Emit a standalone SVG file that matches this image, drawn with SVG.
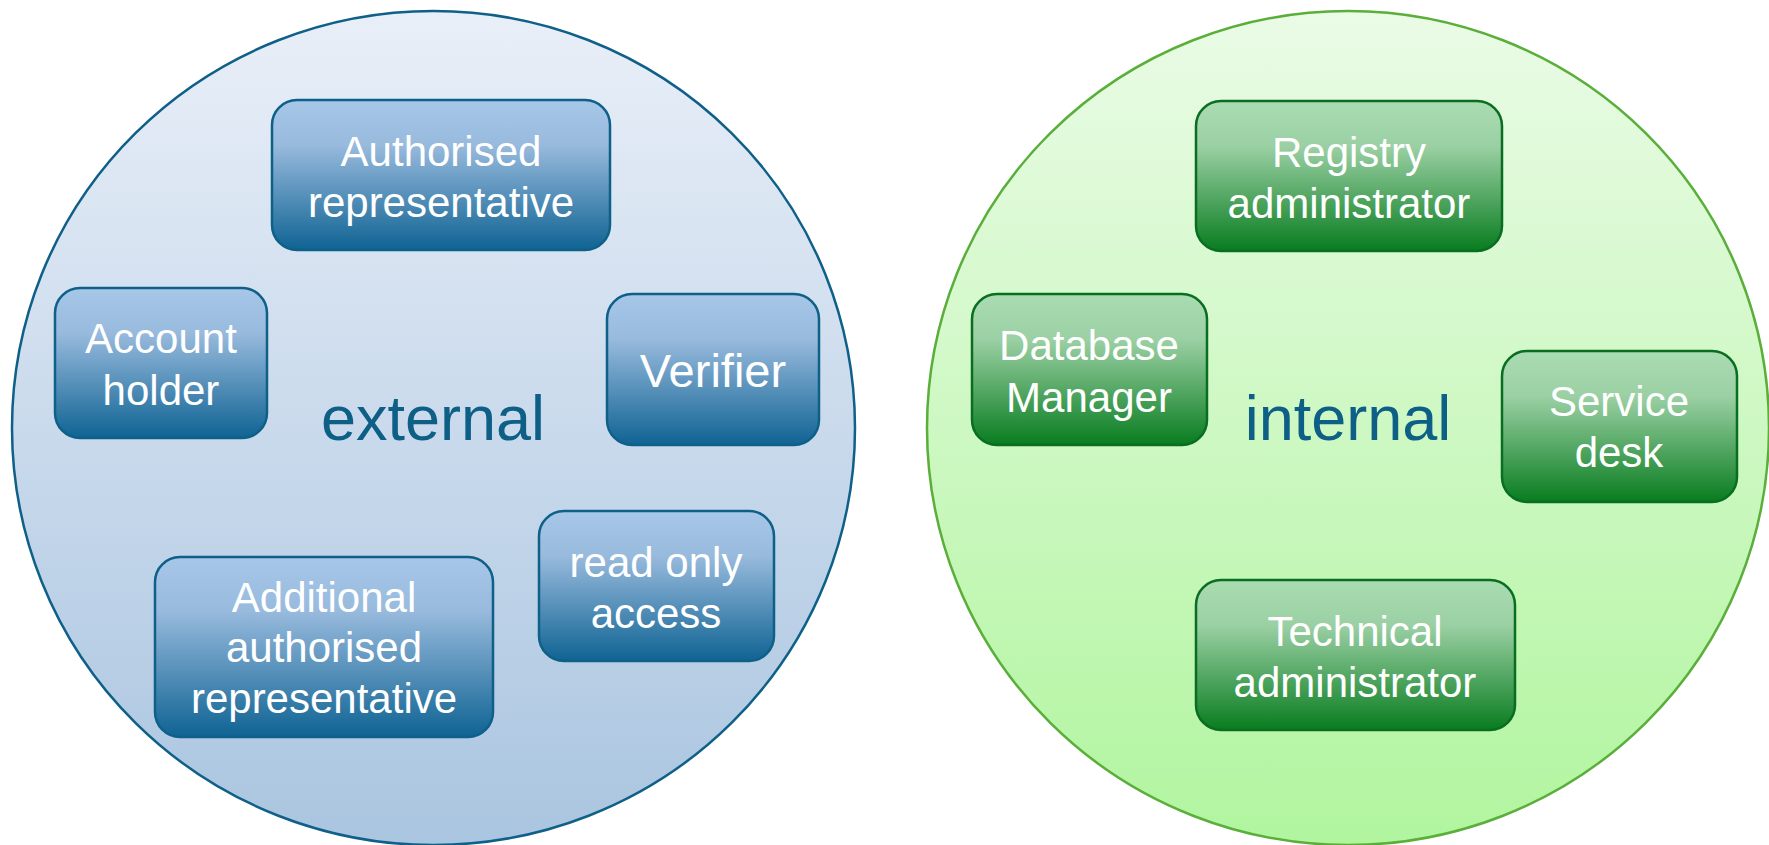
<svg xmlns="http://www.w3.org/2000/svg" width="1769" height="845" viewBox="0 0 1769 845">
<defs>
<linearGradient id="gExt" x1="0" y1="0" x2="0" y2="1"><stop offset="0" stop-color="#e9eff8"/><stop offset="1" stop-color="#aac5e0"/></linearGradient>
<linearGradient id="gInt" x1="0" y1="0" x2="0" y2="1"><stop offset="0" stop-color="#eafbe6"/><stop offset="1" stop-color="#b1f59f"/></linearGradient>
<linearGradient id="gBlue" x1="0" y1="0" x2="0" y2="1"><stop offset="0" stop-color="#a6c7e8"/><stop offset="0.3" stop-color="#98badd"/><stop offset="1" stop-color="#0f6393"/></linearGradient>
<linearGradient id="gGreen" x1="0" y1="0" x2="0" y2="1"><stop offset="0" stop-color="#aadcb2"/><stop offset="0.3" stop-color="#9bd0a4"/><stop offset="1" stop-color="#087c1f"/></linearGradient>
</defs>
<style>
.blue{fill:url(#gBlue);stroke:#0f6088;stroke-width:2.5}
.green{fill:url(#gGreen);stroke:#0a6e22;stroke-width:2.5}
.t{font-family:"Liberation Sans",Arial,sans-serif;font-size:42px;fill:#ffffff;text-anchor:middle}
.big{font-family:"Liberation Sans",Arial,sans-serif;font-size:63px;fill:#0e5f86;text-anchor:middle}
</style>
<g id="external">
<ellipse cx="433.5" cy="428" rx="421.5" ry="417" fill="url(#gExt)" stroke="#0f6088" stroke-width="2.5"/>
<text class="big" x="433" y="440">external</text>
</g>
<g id="internal">
<ellipse cx="1348" cy="428" rx="421" ry="417" fill="url(#gInt)" stroke="#5aae3a" stroke-width="2.5"/>
<text class="big" x="1348" y="440">internal</text>
</g>
<g id="n-authrep"><rect class="blue" x="272" y="100" width="338" height="150" rx="25"/><text class="t" x="441" y="166">Authorised</text><text class="t" x="441" y="217">representative</text></g>
<g id="n-accholder"><rect class="blue" x="55" y="288" width="212" height="150" rx="25"/><text class="t" x="161" y="353">Account</text><text class="t" x="161" y="405">holder</text></g>
<g id="n-verifier"><rect class="blue" x="607" y="294" width="212" height="151" rx="25"/><text class="t" x="713" y="387" style="font-size:47px">Verifier</text></g>
<g id="n-readonly"><rect class="blue" x="539" y="511" width="235" height="150" rx="25"/><text class="t" x="656" y="577">read only</text><text class="t" x="656" y="628">access</text></g>
<g id="n-addauth"><rect class="blue" x="155" y="557" width="338" height="180" rx="25"/><text class="t" x="324" y="612">Additional</text><text class="t" x="324" y="662">authorised</text><text class="t" x="324" y="713">representative</text></g>
<g id="n-regadmin"><rect class="green" x="1196" y="101" width="306" height="150" rx="25"/><text class="t" x="1349" y="167">Registry</text><text class="t" x="1349" y="218">administrator</text></g>
<g id="n-dbmgr"><rect class="green" x="972" y="294" width="235" height="151" rx="25"/><text class="t" x="1089" y="360">Database</text><text class="t" x="1089" y="412">Manager</text></g>
<g id="n-service"><rect class="green" x="1502" y="351" width="235" height="151" rx="25"/><text class="t" x="1619" y="416">Service</text><text class="t" x="1619" y="467">desk</text></g>
<g id="n-techadmin"><rect class="green" x="1196" y="580" width="319" height="150" rx="25"/><text class="t" x="1355" y="646">Technical</text><text class="t" x="1355" y="697">administrator</text></g>
<g id="connectors"/>
</svg>
